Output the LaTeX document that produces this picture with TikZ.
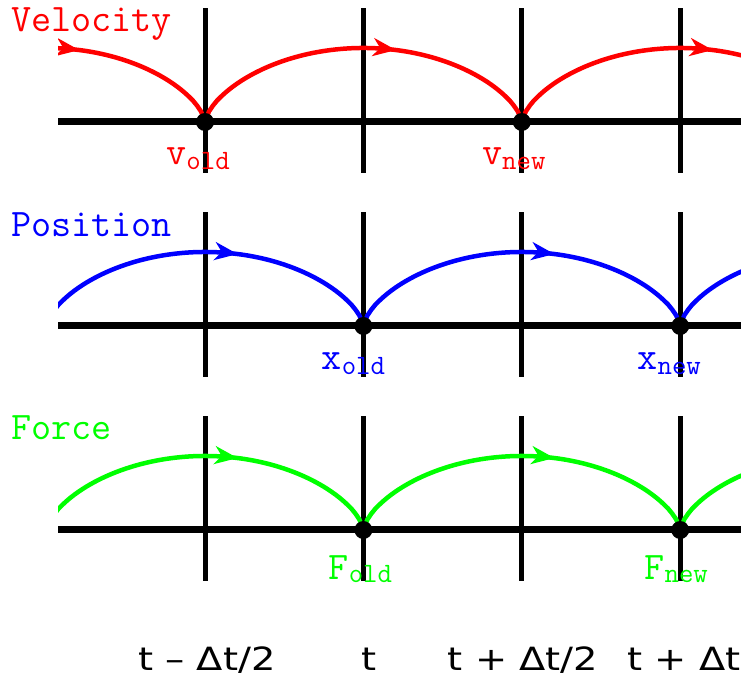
\documentclass[tikz,border=0pt]{standalone}
\usepackage{fontspec}
\newfontfamily\axisfont[FakeStretch=1.2]{DejaVu Sans}
\usetikzlibrary{arrows.meta,decorations.markings}
\newcommand{\lowsub}[2]{\raisebox{-#1}{\fontsize{28}{28}\selectfont #2}}

\begin{document}
\begin{tikzpicture}[x=1pt,y=1pt,
  axis/.style={line width=7pt},
  tick/.style={line width=5pt},
  dot/.style={circle,fill=black,inner sep=0pt,minimum size=18pt},
  hump/.style={line width=4.5pt,decoration={markings,
      mark=at position 0.59 with {\arrow{Stealth[length=23pt,width=18pt,inset=7pt]}}},
    postaction={decorate}},
  ttl/.style={font=\fontsize{39}{40}\selectfont\ttfamily,inner sep=0pt,anchor=base west},
  lbl/.style={font=\fontsize{39}{40}\selectfont\ttfamily,inner sep=0pt,anchor=base},
  tlbl/.style={font=\fontsize{32}{34}\selectfont\axisfont,inner sep=0pt,anchor=base}
]
\useasboundingbox (0,0) rectangle (741,679);
% time grid, one row per quantity
\foreach \y in {557,353,149}{
  \draw[axis] (58,\y) -- (741,\y);
  \foreach \i in {0,...,3}
    \draw[tick] ({205+158.4*\i},\y-51) -- ({205+158.4*\i},\y+114);
}
% leapfrog humps
\begin{scope}
\clip (58,0) rectangle (741,679);
\foreach \c in {46.6,363.4,680.2}
  \draw[hump,red] plot[domain=-1:1,samples=81]
    ({\c+158.4*(\x)},{557+74*(1.0001-(\x)*(\x))^0.65});
\foreach \c in {205,521.8,838.6}{
  \draw[hump,blue] plot[domain=-1:1,samples=81]
    ({\c+158.4*(\x)},{353+74*(1.0001-(\x)*(\x))^0.65});
  \draw[hump,green] plot[domain=-1:1,samples=81]
    ({\c+158.4*(\x)},{149+74*(1.0001-(\x)*(\x))^0.65});
}
\end{scope}
% sample points
\node[dot] (v1) at (205,557) {};
\node[dot] (v2) at (521.8,557) {};
\node[dot] (x1) at (363.4,353) {};
\node[dot] (x2) at (680.2,353) {};
\node[dot] (f1) at (363.4,149) {};
\node[dot] (f2) at (680.2,149) {};
\node[lbl,red] (vold) at ([xshift=-7pt,yshift=-43pt]v1.center) {v\lowsub{5pt}{old}};
\node[lbl,red] (vnew) at ([xshift=-8pt,yshift=-43pt]v2.center) {v\lowsub{5pt}{new}};
\node[lbl,blue] (xold) at ([xshift=-10pt,yshift=-44pt]x1.center) {x\lowsub{5pt}{old}};
\node[lbl,blue] (xnew) at ([xshift=-11pt,yshift=-44pt]x2.center) {x\lowsub{5pt}{new}};
\node[lbl,green] (fold) at ([xshift=-3pt,yshift=-50pt]f1.center) {F\lowsub{3pt}{old}};
\node[lbl,green] (fnew) at ([xshift=-4pt,yshift=-50pt]f2.center) {F\lowsub{3pt}{new}};
% row titles
\node[ttl,red] (vel) at (11,647) {Velocity};
\node[ttl,blue] (pos) at (11,442) {Position};
\node[ttl,green] (frc) at (11,239) {Force};
% time axis
\node[tlbl] (tm) at (207,8) {t – Δt/2};
\node[tlbl] (t0) at (369,8) {t};
\node[tlbl] (tp) at (523,8) {t + Δt/2};
\node[tlbl] (tpp) at (684,8) {t + Δt};
\end{tikzpicture}
\end{document}
